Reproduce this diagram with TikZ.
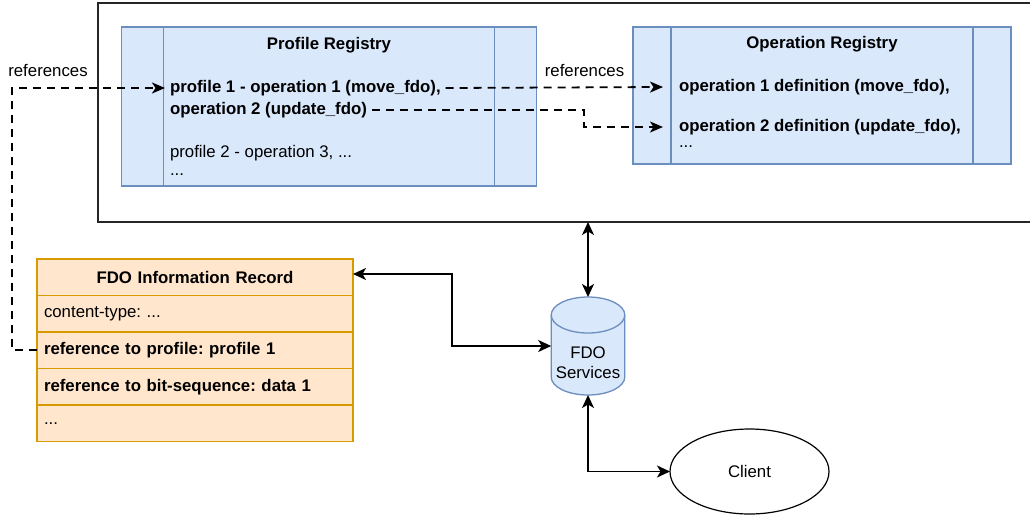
\documentclass[tikz,border=0pt]{standalone}
\usepackage{fontspec}
\setmainfont{Liberation Sans}
\usetikzlibrary{arrows.meta,shapes.geometric}
\definecolor{bluefill}{HTML}{DAE8FC}
\definecolor{bluedraw}{HTML}{6C8EBF}
\definecolor{orfill}{HTML}{FFE6CC}
\definecolor{ordraw}{HTML}{D79B00}
\frenchspacing
\begin{document}
\begin{tikzpicture}[x=1pt,y=-1pt,
  font=\fontsize{16.8}{20.2}\selectfont\frenchspacing,
  outerbox/.style={draw=black!85,line width=1.2pt,minimum width=934pt,minimum height=219pt,inner sep=0pt,outer sep=0pt},
  regbox/.style={draw=bluedraw,fill=bluefill,line width=1.3pt,inner sep=0pt,outer sep=0pt},
  regline/.style={draw=bluedraw,line width=1.3pt},
  txt/.style={inner sep=0pt,outer sep=0pt,anchor=west},
  boldtxt/.style={font=\fontsize{16.8}{20.2}\selectfont\bfseries\frenchspacing},
  rowbox/.style={draw=ordraw,fill=orfill,line width=1.3pt,minimum width=316pt,text width=302pt,inner xsep=7pt,inner ysep=0pt,minimum height=36.5pt,align=left,outer sep=0pt},
  dashref/.style={dash pattern=on 8pt off 6pt,line width=1.8pt,-{Stealth[length=13pt,width=11pt,inset=3.5pt]}},
  solidarr/.style={line width=1.8pt,{Stealth[length=13pt,width=12pt,inset=3.5pt]}-{Stealth[length=13pt,width=12pt,inset=3.5pt]}},
  lbl/.style={inner sep=0pt}
]
\useasboundingbox (0,0) rectangle (1030,517);
\fill[white] (0,0) rectangle (1030,517);

% outer container
\node[outerbox] (outer) at (565,112.5) {};

% Profile registry
\node[regbox,minimum width=415pt,minimum height=159pt] (prof) at (329,106.5) {};
\draw[regline] ([xshift=42pt]prof.north west) -- ([xshift=42pt]prof.south west);
\draw[regline] ([xshift=-42pt]prof.north east) -- ([xshift=-42pt]prof.south east);
\node[lbl,boldtxt] (proft) at (329,45) {Profile Registry};
\node[txt,inner xsep=5pt,boldtxt] (p1) at (165,88) {profile 1 - operation 1 (move\_fdo),};
\node[txt,inner xsep=5pt,boldtxt] (p2) at (165,110) {operation 2 (update\_fdo)};
\node[txt,inner xsep=5pt,align=left,font=\fontsize{16.8}{18}\selectfont\frenchspacing] (p3) at (165,160) {profile 2 - operation 3, ...\\...};

% Operation registry
\node[regbox,minimum width=378pt,minimum height=137pt] (opr) at (822,95.5) {};
\draw[regline] ([xshift=38pt]opr.north west) -- ([xshift=38pt]opr.south west);
\draw[regline] ([xshift=-38pt]opr.north east) -- ([xshift=-38pt]opr.south east);
\node[lbl,boldtxt] (oprt) at (822,44) {Operation Registry};
\node[txt,inner xsep=16pt,boldtxt] (o1) at (663,87) {operation 1 definition (move\_fdo),};
\node[txt,inner xsep=16pt,boldtxt] (o2) at (663,127) {operation 2 definition (update\_fdo),};
\node[txt,inner xsep=16pt] (o3) at (663,147) {...};

% labels
\node[lbl] (ref1) at (48,70) {references};
\node[lbl] (ref2) at (584.5,70) {references};

% FDO Information Record
\node[rowbox,align=center,boldtxt] (rh) at (195,277.25) {FDO Information Record};
\node[rowbox,anchor=north] (r1) at (rh.south) {content-type: ...};
\node[rowbox,anchor=north,boldtxt] (r2) at (r1.south) {reference to profile: profile 1};
\node[rowbox,anchor=north,boldtxt] (r3) at (r2.south) {reference to bit-sequence: data 1};
\node[rowbox,anchor=north] (r4) at (r3.south) {...};

% FDO Services cylinder
\node[minimum width=73.6pt,minimum height=98pt,inner sep=0pt,outer sep=0pt] (fdo) at (588,346) {};
\draw[draw=bluedraw,fill=bluefill,line width=1.3pt]
  (551.2,315) -- (551.2,377) arc[start angle=180,end angle=360,x radius=36.8pt,y radius=18pt]
  -- (624.8,315) arc[start angle=0,end angle=180,x radius=36.8pt,y radius=18pt] -- cycle;
\draw[draw=bluedraw,line width=1.3pt]
  (551.2,315) arc[start angle=180,end angle=360,x radius=36.8pt,y radius=18pt];
\node[align=center,inner sep=0pt] (fdot) at (588,363) {FDO\\Services};

% Client
\node[ellipse,draw=black,line width=1.2pt,minimum width=159pt,minimum height=85pt,inner sep=0pt,outer sep=0pt] (client) at (749.5,471.5) {Client};

% connectors
\coordinate (lx) at (12,0);
\draw[dashref] (r2.west) -- (r2.west -| lx) -- (lx |- p1.west) -- (p1.west);
\draw[dashref] (p1.east) -- (o1.west);
\coordinate (bx) at (584,0);
\draw[dashref] (p2.east) -- (p2.east -| bx) -- (bx |- o2.west) -- (o2.west);
\draw[solidarr] (fdo.north) -- (fdo.north |- outer.south);
\coordinate (ex) at (452,0);
\coordinate (ey) at (0,274);
\draw[solidarr] (rh.east |- ey) -- (ex |- ey) -- (ex |- fdo.west) -- (fdo.west);
\draw[solidarr] (fdo.south) -- (fdo.south |- client.west) -- (client.west);
\end{tikzpicture}
\end{document}
